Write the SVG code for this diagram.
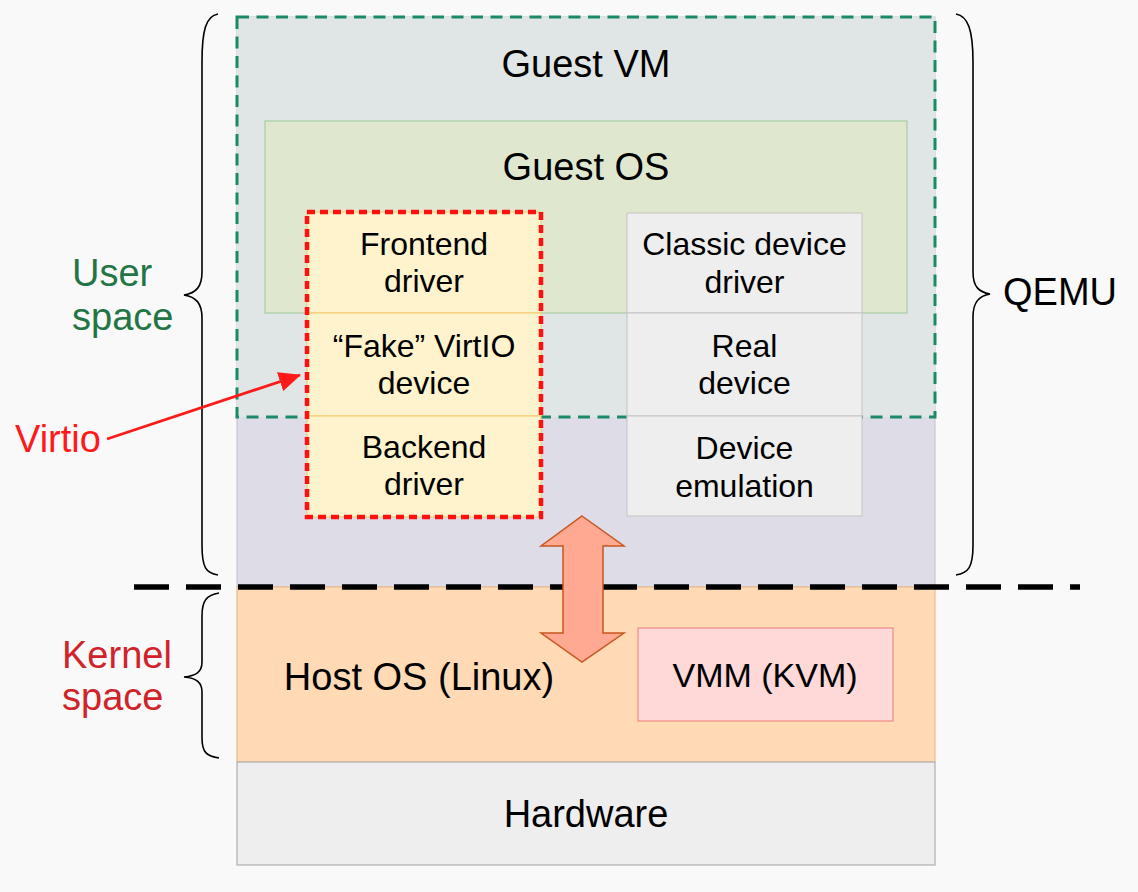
<svg xmlns="http://www.w3.org/2000/svg" width="1138" height="892" viewBox="0 0 1138 892">
<defs>
<style>
text{font-family:"Liberation Sans",Arial,sans-serif;fill:#000;text-anchor:middle}
.big{font-size:38px}
.mid{font-size:32px}
.lbl{font-size:38px;text-anchor:start}
.brace{fill:none;stroke:#000;stroke-width:1.6}
.vcell{fill:#fff3cd;stroke:#f2c96b;stroke-width:1}
.ccell{fill:#eeeeee;stroke:#c4c4c4;stroke-width:1}
</style>
<marker id="redhead" markerWidth="22" markerHeight="20" refX="21" refY="10" orient="auto" markerUnits="userSpaceOnUse" viewBox="0 0 22 20">
<path d="M0,0 L22,10 L0,20 z" fill="#ff1a1a"/>
</marker>
</defs>
<rect x="0" y="0" width="1138" height="892" fill="#f9f9f9"/>

<g id="qemu">
<rect x="237" y="17" width="698" height="570" fill="#dedce7" stroke="#bcc2d2" stroke-width="1"/>
</g>
<g id="guest-vm">
<rect x="237" y="17" width="698" height="400" fill="#dfe6e5" stroke="#1b8a66" stroke-width="3" stroke-dasharray="12 7.5"/>
<text class="big" x="586" y="77">Guest VM</text>
</g>
<g id="guest-os">
<rect x="265" y="121" width="642" height="192" fill="#dfe8cf" stroke="#9cc79a" stroke-width="1"/>
<text class="big" x="586" y="180">Guest OS</text>
</g>
<g id="host-os">
<rect x="237" y="587" width="698" height="175" fill="#ffdab5" stroke="#ebb47a" stroke-width="1"/>
<text class="big" x="419" y="690">Host OS (Linux)</text>
</g>
<g id="hardware">
<rect x="237" y="762" width="698" height="103" fill="#eeeeee" stroke="#b0b0b0" stroke-width="1.2"/>
<text class="big" x="586" y="827">Hardware</text>
</g>
<g id="vmm">
<rect x="638" y="628" width="255" height="93" fill="#ffd8d8" stroke="#ee7a7a" stroke-width="1"/>
<text x="765" y="687" style="font-size:34px">VMM (KVM)</text>
</g>

<g id="frontend-driver">
<rect class="vcell" x="307" y="212" width="234" height="101"/>
<text class="mid" x="424" y="255">Frontend</text>
<text class="mid" x="424" y="292">driver</text>
</g>
<g id="fake-virtio-device">
<rect class="vcell" x="307" y="313" width="234" height="103"/>
<text class="mid" x="424" y="357">“Fake” VirtIO</text>
<text class="mid" x="424" y="394">device</text>
</g>
<g id="backend-driver">
<rect class="vcell" x="307" y="416" width="234" height="101"/>
<text class="mid" x="424" y="458">Backend</text>
<text class="mid" x="424" y="495">driver</text>
</g>
<g id="virtio-border">
<rect x="307" y="212" width="234" height="305" fill="none" stroke="#ff1010" stroke-width="4.5" stroke-dasharray="8 5"/>
</g>

<g id="classic-driver">
<rect class="ccell" x="627" y="213" width="235" height="100"/>
<text class="mid" x="744.5" y="255">Classic device</text>
<text class="mid" x="744.5" y="293">driver</text>
</g>
<g id="real-device">
<rect class="ccell" x="627" y="313" width="235" height="103"/>
<text class="mid" x="744.5" y="357">Real</text>
<text class="mid" x="744.5" y="394">device</text>
</g>
<g id="device-emulation">
<rect class="ccell" x="627" y="416" width="235" height="100"/>
<text class="mid" x="744.5" y="459">Device</text>
<text class="mid" x="744.5" y="497">emulation</text>
</g>

<g id="labels">
<text class="lbl" x="72" y="286" style="fill:#237545">User</text>
<text class="lbl" x="72" y="330" style="fill:#237545">space</text>
<text class="lbl" x="62" y="668" style="fill:#d0232a">Kernel</text>
<text class="lbl" x="62" y="710" style="fill:#d0232a">space</text>
<text class="lbl" x="15" y="452" style="fill:#ff1a1a">Virtio</text>
<text class="lbl" x="1003" y="305">QEMU</text>
</g>

<g id="connectors">
<line x1="134" y1="587" x2="1080" y2="587" stroke="#000" stroke-width="5.5" stroke-dasharray="35 17"/>
<path class="brace" d="M218,14 C206,16 202,30 202,62 L202,272 C202,287 196,293 184,295 C196,297 202,303 202,318 L202,545 C202,568 206,573 218,575"/>
<path class="brace" d="M219,593 C207,595 202,600 202,616 L202,662 C202,672 196,676 184,677 C196,678 202,682 202,692 L202,738 C202,753 207,756 219,758"/>
<path class="brace" d="M956,14 C968,16 973,30 973,62 L973,272 C973,287 979,292 990,294 C979,296 973,302 973,317 L973,545 C973,568 968,573 956,575"/>
<line x1="107" y1="439" x2="300" y2="375" stroke="#ff1a1a" stroke-width="2.8" marker-end="url(#redhead)"/>
<polygon points="582,516 624,546 603,546 603,633 624,633 582,662 541,633 563,633 563,546 541,546" fill="#ffa892" stroke="#c8561f" stroke-width="1.5" stroke-linejoin="miter"/>
</g>
</svg>
